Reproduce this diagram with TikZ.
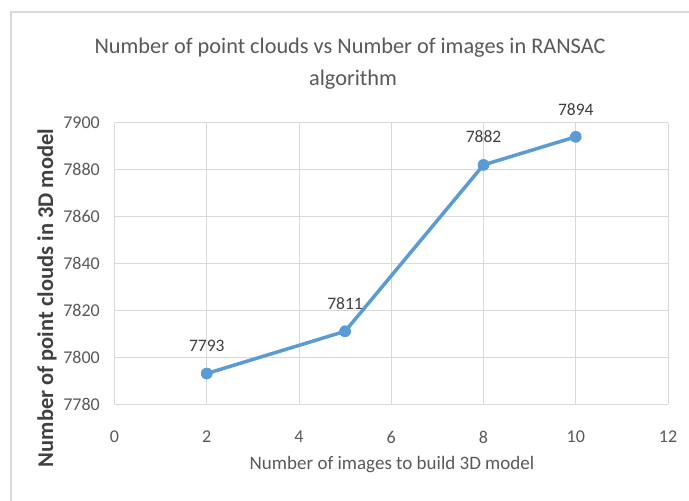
\documentclass[tikz,border=0pt]{standalone}
\usepackage{fontspec}
\setmainfont{Carlito}
\definecolor{gridgray}{HTML}{D9D9D9}
\definecolor{bordergray}{HTML}{D9D9D9}
\definecolor{ticktext}{HTML}{595959}
\definecolor{labeltext}{HTML}{404040}
\definecolor{series}{HTML}{5B9BD5}
\tikzset{
  gridline/.style={draw=gridgray, line width=1pt},
  ticklabel/.style={inner sep=0pt, text=ticktext, font=\fontsize{18}{20}\selectfont},
  datalabel/.style={inner sep=0pt, text=labeltext, font=\fontsize{17.5}{20}\selectfont},
  titletext/.style={inner sep=0pt, text=ticktext, font=\fontsize{22.3}{30}\selectfont},
  axistitle/.style={inner sep=0pt, text=ticktext, font=\fontsize{19}{22}\selectfont},
  marker/.style={circle, fill=series, inner sep=0pt, minimum size=11.5pt},
  seriesline/.style={draw=series, line width=3.5pt, line cap=round, line join=round}
}
\begin{document}
\begin{tikzpicture}[x=1pt,y=-1pt]
\useasboundingbox (0,0) rectangle (689,501);
\fill[white] (0,0) rectangle (689,501);
% chart border (top and left visible)
\draw[bordergray, line width=1.5pt] (11,501) -- (11,12) -- (689,12);

% title
\node[titletext, anchor=base] (t1) at (350,53) {Number of point clouds vs Number of images in RANSAC};
\node[titletext, anchor=base] (t2) at (353,85) {algorithm};

% horizontal gridlines
\foreach \yy in {122.7,169.6,216.5,263.4,310.3,357.1,404} {
  \draw[gridline] (114.5,\yy) -- (668,\yy);
}
% vertical gridlines
\foreach \xx in {114.5,206.75,299,391.25,483.5,575.75,668} {
  \draw[gridline] (\xx,122.7) -- (\xx,404);
}

% y tick labels
\node[ticklabel, anchor=east] (y1) at (100,122.7) {7900};
\node[ticklabel, anchor=east] (y2) at (100,169.6) {7880};
\node[ticklabel, anchor=east] (y3) at (100,216.5) {7860};
\node[ticklabel, anchor=east] (y4) at (100,263.4) {7840};
\node[ticklabel, anchor=east] (y5) at (100,310.3) {7820};
\node[ticklabel, anchor=east] (y6) at (100,357.1) {7800};
\node[ticklabel, anchor=east] (y7) at (100,404) {7780};

% x tick labels
\node[ticklabel] (x0) at (114.5,437) {0};
\node[ticklabel] (x2) at (206.75,437) {2};
\node[ticklabel] (x4) at (299,437) {4};
\node[ticklabel] (x6) at (391.25,437) {6};
\node[ticklabel] (x8) at (483.5,437) {8};
\node[ticklabel] (x10) at (575.75,437) {10};
\node[ticklabel] (x12) at (668,437) {12};

% axis titles
\node[axistitle, anchor=base] (xt) at (392,469) {Number of images to build 3D model};
\node[axistitle, rotate=90, text=labeltext, font=\fontsize{22.5}{24}\selectfont\bfseries] (yt) at (47,298) {Number of point clouds in 3D model};

% data points
\node[marker] (p1) at (206.75,373.5) {};
\node[marker] (p2) at (345.1,331.3) {};
\node[marker] (p3) at (483.5,164.9) {};
\node[marker] (p4) at (575.75,136.8) {};
\draw[seriesline] (p1.center) -- (p2.center) -- (p3.center) -- (p4.center);
\node[marker] at (p1) {};
\node[marker] at (p2) {};
\node[marker] at (p3) {};
\node[marker] at (p4) {};

% data labels
\node[datalabel] (l1) at (206.75,346) {7793};
\node[datalabel] (l2) at (345.1,304) {7811};
\node[datalabel] (l3) at (483.5,137) {7882};
\node[datalabel] (l4) at (575.75,110) {7894};
\end{tikzpicture}
\end{document}
